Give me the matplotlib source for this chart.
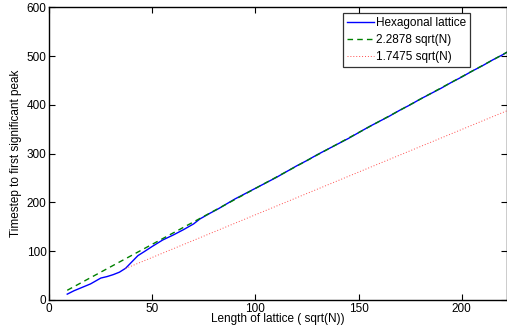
import matplotlib
matplotlib.use("Agg")
import matplotlib.pyplot as plt
import numpy as np

plt.rcParams['font.family'] = ['Liberation Sans', 'DejaVu Sans']

# Simulation data: length of lattice sqrt(N) vs timestep to first significant peak
x_hex = [8.7, 12, 16, 20, 25, 28, 31, 34, 37, 40, 43, 46, 50, 55, 60, 65, 70, 73,
         78, 82, 86, 90, 95, 100, 105, 110, 115, 120, 125, 130, 135, 140, 145, 150,
         155, 160, 165, 170, 175, 180, 185, 190, 195, 200, 205, 210, 215, 220, 222]
y_hex = [12, 19, 26, 33, 45, 48, 52, 57, 65, 78, 91, 99, 110, 123, 133, 144, 156, 166,
         178, 187, 197, 207, 218, 229, 240, 251, 263, 275, 286, 298, 309, 320, 331, 343,
         355, 366, 377, 389, 400, 412, 423, 434, 446, 457, 469, 480, 492, 503, 508]

# Fit lines (coefficient * sqrt(N)) and their x-extents
coef_upper = 2.2878
coef_lower = 1.7475
x_upper = [8.7, 222]
x_lower = [37, 222]

labels = ['Hexagonal lattice', '2.2878 sqrt(N)', '1.7475 sqrt(N)']

fig = plt.figure(figsize=(5.07, 3.31), dpi=100)
ax = fig.add_axes([49.3/507, 1-300/331, (507-49.3)/507, (300-7.3)/331])

ax.plot(x_hex, y_hex, color=(0, 0, 1), lw=1.0, label=labels[0])
ax.plot(x_upper, [coef_upper*v for v in x_upper], color=(0, 0.5, 0), lw=1.0,
        ls=(0, (4, 3)), label=labels[1])
ax.plot(x_lower, [coef_lower*v for v in x_lower], color=(1, 0.3, 0.3), lw=0.7,
        ls=(0, (1, 2)), label=labels[2])

ax.set_xlim(0, 222)
ax.set_ylim(0, 600)
ax.set_xticks([0, 50, 100, 150, 200])
ax.set_yticks([0, 100, 200, 300, 400, 500, 600])
ax.tick_params(direction='in', top=True, right=True, labelsize=8.5, length=4,
               width=0.8, pad=2)
for s in ax.spines.values():
    s.set_linewidth(1.0)

ax.set_xlabel('Length of lattice ( sqrt(N))', fontsize=8.5, labelpad=-1)
ax.set_ylabel('Timestep to first significant peak', fontsize=8.5, labelpad=3)

leg = ax.legend(loc='upper left', bbox_to_anchor=(0.641, 0.9816), borderaxespad=0,
                fontsize=8.5, frameon=True, fancybox=False, handlelength=2.3,
                handletextpad=0.15, borderpad=0.35, labelspacing=0.42)
leg.get_frame().set_edgecolor('black')
leg.get_frame().set_linewidth(0.9)

fig.savefig('out.png', dpi=100)
